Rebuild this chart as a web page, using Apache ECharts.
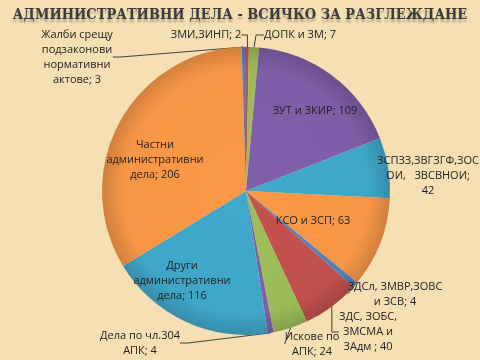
<!DOCTYPE html>
<html><head><meta charset="utf-8">
<script src="https://cdn.jsdelivr.net/npm/echarts@6/dist/echarts.min.js"></script>
<style>html,body{margin:0;padding:0;background:#F5DFB3}#c{width:480px;height:360px}</style>
</head><body><div id="c"></div>
<script>
// ---- data ----
const titleText = 'АДМИНИСТРАТИВНИ ДЕЛА - ВСИЧКО ЗА РАЗГЛЕЖДАНЕ';
const categories = [
  'ЗМИ,ЗИНП',
  'ДОПК и ЗМ',
  'ЗУТ и ЗКИР',
  'ЗСПЗЗ,ЗВГЗГФ,ЗОСОИ, ЗВСВНОИ',
  'КСО и ЗСП',
  'ЗДСл, ЗМВР,ЗОВС и ЗСВ',
  'ЗДС, ЗОБС, ЗМСМА и ЗАдм ',
  'Искове по АПК',
  'Дела по чл.304 АПК',
  'Други административни дела',
  'Частни административни дела',
  'Жалби срещу подзаконови нормативни актове'
];
const values = [2, 7, 109, 42, 63, 4, 40, 24, 4, 116, 206, 3];
// label text as wrapped in the picture (%v = value)
const labelTemplates = [
  'ЗМИ,ЗИНП; %v',
  'ДОПК и ЗМ; %v',
  'ЗУТ и ЗКИР; %v',
  'ЗСПЗЗ,ЗВГЗГФ,ЗОС\nОИ,   ЗВСВНОИ;\n%v',
  'КСО и ЗСП; %v',
  'ЗДСл, ЗМВР,ЗОВС\nи ЗСВ; %v',
  'ЗДС, ЗОБС,\nЗМСМА и\nЗАдм ; %v',
  'Искове по\nАПК; %v',
  'Дела по чл.304\nАПК; %v',
  'Други\nадминистративни\nдела; %v',
  'Частни\nадминистративни\nдела; %v',
  'Жалби срещу\nподзаконови\nнормативни\nактове; %v'
];

// ---- styles / layout ----
const sliceColors = ['#C0504D','#9BBB59','#7E5EA6','#3FA6C8','#F79646','#4F81BD',
                     '#C0504D','#9BBB59','#7E5EA6','#3FA6C8','#F79646','#4F81BD'];
const insideLabels = [2, 4, 9, 10];
const labelPos = [[206,35],[300,35],[315,111],[428,176],[313,221],[395,294],
                  [368,332],[312,344],[140,343],[182,281],[155,160],[77,57]];
const CX = 246, CY = 191, R = 144;

function shade(hex, f) {
  const n = parseInt(hex.slice(1), 16);
  let r = (n >> 16) & 255, g = (n >> 8) & 255, b = n & 255;
  r = Math.round(r * f); g = Math.round(g * f); b = Math.round(b * f);
  return 'rgb(' + Math.min(255,r) + ',' + Math.min(255,g) + ',' + Math.min(255,b) + ')';
}

const data = categories.map((name, i) => {
  const c = sliceColors[i];
  const item = {
    name: name,
    value: values[i],
    itemStyle: {
      color: {
        type: 'radial', x: CX, y: CY, r: R, global: true,
        colorStops: [
          { offset: 0, color: shade(c, 1.02) },
          { offset: 0.85, color: c },
          { offset: 1, color: shade(c, 0.85) }
        ]
      }
    }
  };
  if (insideLabels.indexOf(i) >= 0) {
    item.label = { position: 'inside' };
    item.labelLine = { show: false };
  }
  return item;
});

const chart = echarts.init(document.getElementById('c'), null, { renderer: 'canvas' });
chart.setOption({
  backgroundColor: '#F5DFB3',
  animation: false,
  title: {
    text: titleText,
    left: 'center',
    top: 3,
    textStyle: {
      fontFamily: 'DejaVu Serif Condensed, DejaVu Serif',
      fontWeight: 'bold',
      fontSize: 14.5,
      color: '#3C3C3C',
      textShadowColor: 'rgba(0,0,0,0.25)',
      textShadowBlur: 2,
      textShadowOffsetY: 3
    }
  },
  series: [{
    type: 'pie',
    center: [CX, CY],
    radius: R,
    startAngle: 90,
    clockwise: true,
    avoidLabelOverlap: false,
    data: data,
    itemStyle: { borderWidth: 0 },
    label: {
      show: true,
      position: 'outside',
      color: '#222222',
      fontFamily: 'Open Sans',
      fontSize: 11,
      lineHeight: 15,
      align: 'center',
      formatter: p => labelTemplates[p.dataIndex].replace('%v', p.value)
    },
    labelLine: {
      show: true,
      length: 8,
      length2: 8,
      smooth: false,
      lineStyle: { color: '#404040', width: 1 }
    },
    labelLayout: function (p) {
      const pos = labelPos[p.dataIndex];
      return { x: pos[0], y: pos[1], align: 'center', verticalAlign: 'middle', hideOverlap: false };
    },
    emphasis: { disabled: true }
  }]
});
</script></body></html>
